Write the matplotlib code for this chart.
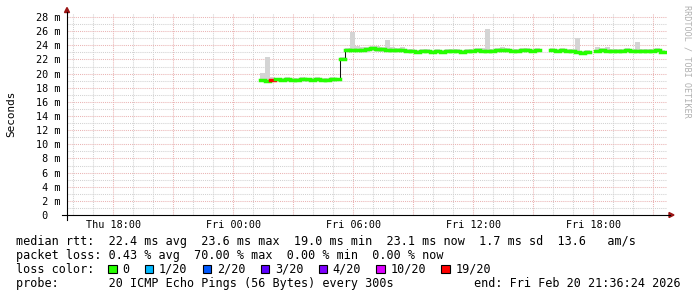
import matplotlib
matplotlib.use("Agg")
import matplotlib.dates as mdates
import matplotlib.pyplot as plt
import numpy as np
import pandas as pd
from matplotlib.lines import Line2D
from matplotlib.patches import Polygon, Rectangle
from matplotlib.ticker import FuncFormatter, MultipleLocator


# one sample every 15 minutes, starting Fri 01:20; None = no data
SAMPLE_START = "2026-02-20 01:20"
SAMPLE_STEP_MIN = 15
VIEW_START = "2026-02-19 15:41"
VIEW_END = "2026-02-20 21:41"

MEDIAN_MS = [
    19.1, 19.0, 19.1, 19.2, 19.1, 19.2, 19.1, 19.1, 19.2, 19.2, 19.1, 19.2, 19.1, 19.1, 19.2, 19.2,
    22.1,
    23.3, 23.4, 23.4, 23.4, 23.5, 23.6, 23.5, 23.5, 23.4, 23.4, 23.3, 23.4, 23.2,
    23.2, 23.1, 23.2, 23.2, 23.1, 23.2, 23.1, 23.2,
    23.2, 23.2, 23.1, 23.2, 23.2, 23.3, 23.2, 23.2, 23.2, 23.3, 23.4, 23.3,
    23.2, 23.2, 23.3, 23.3, 23.2, 23.3,
    None, None,
    23.3, 23.2, 23.3, 23.2, 23.2, 23.1, 22.9, 23.1,
    None,
    23.2, 23.3, 23.2, 23.2, 23.2, 23.2, 23.3, 23.2, 23.2, 23.2, 23.2, 23.2, 23.3, 23.1,
]
SMOKE_MAX_MS = [
    20.1, 22.4, 19.5, 19.4, 19.4, 19.5, 19.4, 19.4, 19.5, 19.4, 19.4, 19.5, 19.4, 19.4, 19.5, 19.4,
    22.3,
    23.6, 25.9, 23.9, 23.7, 23.8, 23.9, 23.9, 23.8, 24.75, 23.7, 23.6, 23.7, 23.5,
    23.5, 23.4, 23.5, 23.5, 23.4, 23.5, 23.4, 23.5,
    23.5, 23.5, 23.4, 23.5, 23.5, 23.6, 23.6, 26.3, 23.5, 23.6, 23.8, 23.6,
    23.5, 23.5, 23.6, 23.6, 23.5, 23.6,
    None, None,
    23.6, 23.5, 23.6, 23.5, 23.5, 25.0, 23.2, 23.4,
    None,
    23.8, 23.6, 23.7, 23.5, 23.5, 23.5, 23.6, 23.5, 24.4, 23.5, 23.5, 23.5, 23.6, 23.4,
]
SMOKE_MIN_MS = [
    18.8, 18.7, 18.8, 18.9, 18.8, 18.8, 18.8, 18.8, 18.9, 18.8, 18.8, 18.9, 18.8, 18.8, 18.9, 18.9,
    21.8,
    23.0, 23.1, 23.1, 23.0, 23.1, 23.2, 23.1, 23.0, 23.1, 23.0, 23.0, 23.1, 22.9,
    22.9, 22.8, 22.9, 22.9, 22.8, 22.9, 22.8, 22.9,
    22.9, 22.9, 22.8, 22.9, 22.9, 23.0, 22.9, 22.9, 22.9, 23.0, 23.1, 23.0,
    22.9, 22.9, 23.0, 23.0, 22.9, 23.0,
    None, None,
    23.0, 22.9, 23.0, 22.9, 22.9, 22.8, 22.6, 22.8,
    None,
    22.9, 23.0, 22.9, 22.9, 22.9, 22.9, 23.0, 22.9, 22.9, 22.9, 22.9, 22.9, 23.0, 22.8,
]
LOSS_PINGS = [0] * 81
LOSS_PINGS[2] = 19

LOSS_LEVELS = [0, 1, 2, 3, 4, 10, 19]
LOSS_LABELS = ["0", "1/20", "2/20", "3/20", "4/20", "10/20", "19/20"]
LOSS_COLORS = ["#26ff00", "#00b8ff", "#0059ff", "#5e00ff", "#7e00ff", "#dd00ff", "#ff0000"]

Y_TICKS = list(range(0, 29, 2))
Y_MAX = 28.57

RTT_LINE = "median rtt:  22.4 ms avg  23.6 ms max  19.0 ms min  23.1 ms now  1.7 ms sd  13.6   am/s"
LOSS_LINE = "packet loss: 0.43 % avg  70.00 % max  0.00 % min  0.00 % now"
PROBE_LINE = "probe:       20 ICMP Echo Pings (56 Bytes) every 300s"
END_LINE = "end: Fri Feb 20 21:36:24 2026"

W, H = 697, 297
CHAR_W = 7.1
MAJOR_GRID = "#eab4b4"
MINOR_GRID = "#d2d2d2"
ARROW = "#9a1414"


def fx(x):
    return x / W


def fy(y):
    return 1 - y / H


def loss_color(lost):
    color = LOSS_COLORS[0]
    for level, c in zip(LOSS_LEVELS, LOSS_COLORS):
        if lost >= level:
            color = c
    return color


plt.rcParams["font.family"] = ["DejaVu Sans Mono"]

fig = plt.figure(figsize=(W / 100, H / 100), dpi=100)
ax = fig.add_axes([fx(67), fy(215), 600 / W, 202 / H])

median = np.array(MEDIAN_MS, dtype=float)
smoke_hi = np.array(SMOKE_MAX_MS, dtype=float)
smoke_lo = np.array(SMOKE_MIN_MS, dtype=float)
edges = pd.date_range(SAMPLE_START, periods=len(median) + 1, freq=f"{SAMPLE_STEP_MIN}min")
t0 = mdates.date2num(edges[:-1].to_pydatetime())
t1 = mdates.date2num(edges[1:].to_pydatetime())
valid = ~np.isnan(median)

# smoke
ax.bar(t0[valid], (smoke_hi - smoke_lo)[valid], bottom=smoke_lo[valid],
       width=SAMPLE_STEP_MIN / 1440, align="edge", color="#d4d4d4", linewidth=0, zorder=2)

# thin dark median (gives the vertical joins), then loss-coloured median on top
ax.step(np.append(t0, t1[-1]), np.append(median, median[-1]), where="post",
        color="#111111", lw=0.75, zorder=3)
ax.hlines(median[valid], t0[valid], t1[valid],
          colors=[loss_color(l) for l, ok in zip(LOSS_PINGS, valid) if ok],
          lw=2.5, zorder=4, capstyle="projecting")

ax.set_xlim(mdates.datestr2num(VIEW_START), mdates.datestr2num(VIEW_END))
ax.set_ylim(0, Y_MAX)

ax.xaxis.set_major_locator(mdates.HourLocator(byhour=range(0, 24, 3)))
ax.xaxis.set_minor_locator(mdates.HourLocator())


def time_label(x, pos):
    d = mdates.num2date(x)
    return d.strftime("%a %H:%M") if d.hour % 6 == 0 else ""


ax.xaxis.set_major_formatter(FuncFormatter(time_label))
ax.set_yticks(Y_TICKS)
ax.set_yticklabels([f"{v:2d} m" if v else " 0" for v in Y_TICKS])
ax.yaxis.set_minor_locator(MultipleLocator(1))

ax.set_axisbelow(True)
ax.grid(which="major", color=MAJOR_GRID, linestyle=(0, (1, 1)), lw=0.75)
ax.grid(which="minor", color=MINOR_GRID, linestyle=(0, (1, 1)), lw=0.75)
ax.tick_params(which="both", length=0)
ax.tick_params(axis="x", pad=3.8, labelsize=7.3)
ax.tick_params(axis="y", pad=22.3, labelsize=7.3)
for lab in ax.get_yticklabels():
    lab.set_horizontalalignment("left")
for side in ax.spines.values():
    side.set_visible(False)

# axes with arrows
fig.add_artist(Line2D([fx(62), fx(670)], [fy(215), fy(215)], color="black", lw=0.8))
fig.add_artist(Line2D([fx(67), fx(67)], [fy(220), fy(12)], color="black", lw=0.8))
fig.add_artist(Polygon([(fx(64.5), fy(12.5)), (fx(69.5), fy(12.5)), (fx(67), fy(7.5))],
                       closed=True, color=ARROW, transform=fig.transFigure))
fig.add_artist(Polygon([(fx(669), fy(212.5)), (fx(669), fy(217.5)), (fx(674), fy(215))],
                       closed=True, color=ARROW, transform=fig.transFigure))

fig.text(fx(11), fy(114), "Seconds", rotation=90, ha="center", va="center", fontsize=7.9)
fig.text(fx(687.5), fy(5), "RRDTOOL / TOBI OETIKER", rotation=-90, ha="center", va="top",
         fontsize=6.1, color="#b0b0b0")

# legend block
fig.text(fx(16), fy(245), RTT_LINE, fontsize=8.5, va="baseline")
fig.text(fx(16), fy(259), LOSS_LINE, fontsize=8.5, va="baseline")
fig.text(fx(16), fy(273), "loss color:", fontsize=8.5, va="baseline")
x = 108.3
for label, color in zip(LOSS_LABELS, LOSS_COLORS):
    fig.add_artist(Rectangle((fx(x), fy(273)), 8.5 / W, 8.5 / H, facecolor=color,
                             edgecolor="black", lw=0.8, transform=fig.transFigure))
    fig.text(fx(x + 14), fy(273), label, fontsize=8.5, va="baseline")
    x += 14 + len(label) * CHAR_W + 15.5
fig.text(fx(16), fy(287), PROBE_LINE, fontsize=8.5, va="baseline")
fig.text(fx(681), fy(287), END_LINE, fontsize=8.5, va="baseline", ha="right")

fig.savefig("out.png", dpi=100)
